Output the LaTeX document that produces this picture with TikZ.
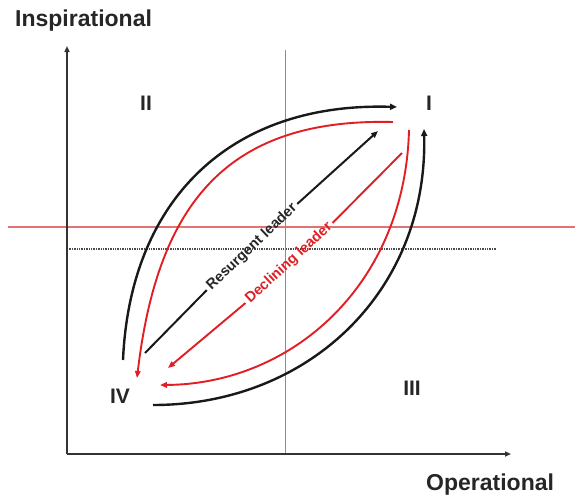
\documentclass[tikz,border=0pt]{standalone}
\usepackage{fontspec}
\setmainfont{Liberation Sans}
\usetikzlibrary{arrows.meta}
\definecolor{darkred}{RGB}{225,30,35}
\definecolor{pinkline}{RGB}{225,115,115}
\begin{document}
\begin{tikzpicture}[x=1pt,y=-1pt,
  axis/.style={line width=1.6pt,draw=black!80,-{Triangle[length=6pt,width=5pt]}},
  blackarc/.style={line width=2.4pt,draw=black!90,-{Triangle[length=7pt,width=6pt]}},
  redarc/.style={line width=1.9pt,draw=darkred,-{Triangle[length=7pt,width=5.5pt]}},
  blackline/.style={line width=2pt,draw=black!90},
  redline/.style={line width=1.9pt,draw=darkred},
  quad/.style={font=\fontsize{21}{24}\selectfont\bfseries,text=black!85,inner sep=0pt},
  axlabel/.style={font=\fontsize{23}{27}\selectfont\bfseries,text=black!85,inner sep=0pt,anchor=base west},
  diag/.style={font=\fontsize{14.5}{17}\selectfont\bfseries,inner sep=3pt}]
\useasboundingbox (0,0) rectangle (575,496);
% reference lines
\draw[pinkline,line width=1.1pt] (8,227) -- (575,227);
\draw[black!70,line width=1.4pt,densely dotted] (67,249) -- (496,249);
\draw[black!45,line width=0.8pt] (285,50) -- (285,454);
% axes
\coordinate (O) at (67,454);
\coordinate (Ytip) at (67,46);
\coordinate (Xtip) at (511,454);
\draw[axis] (O) -- (Ytip);
\draw[axis] (O) -- (Xtip);
\node[axlabel] (ylab) at (15,26) {Inspirational};
\node[axlabel] (xlab) at (426,490) {Operational};
% quadrant labels
\node[quad] (q1) at (429,103) {I};
\node[quad] (q2) at (146,103) {II};
\node[quad] (q3) at (412,388) {III};
\node[quad] (q4) at (120,396) {IV};
% curved arcs
\coordinate (a1s) at (123,360); \coordinate (a1e) at (397,107);
\coordinate (r1s) at (393,122); \coordinate (r1e) at (137,378);
\coordinate (a2s) at (153,405); \coordinate (a2e) at (424,129);
\coordinate (r2s) at (409,130); \coordinate (r2e) at (160,385);
\draw[blackarc] (a1s) .. controls (130,200) and (230,102) .. (a1e);
\draw[redarc] (r1s) .. controls (230,118) and (158,200) .. (r1e);
\draw[blackarc] (a2s) .. controls (310,405) and (428,290) .. (a2e);
\draw[redarc] (r2s) .. controls (405,285) and (292,384) .. (r2e);
% straight diagonal arrows
\coordinate (bs) at (145,353); \coordinate (be) at (378,131);
\coordinate (rs) at (402,153); \coordinate (re) at (168,368);
\node[diag,rotate=43.6,text=black!85] (res) at (252,247) {Resurgent leader};
\node[diag,rotate=42.6,text=darkred] (dec) at (289,263) {Declining leader};
\draw[blackline] (bs) -- (res.west);
\draw[blackline,-{Triangle[length=7pt,width=5.5pt]}] (res.east) -- (be);
\draw[redline] (rs) -- (dec.east);
\draw[redline,-{Triangle[length=7pt,width=5.5pt]}] (dec.west) -- (re);
\end{tikzpicture}
\end{document}
